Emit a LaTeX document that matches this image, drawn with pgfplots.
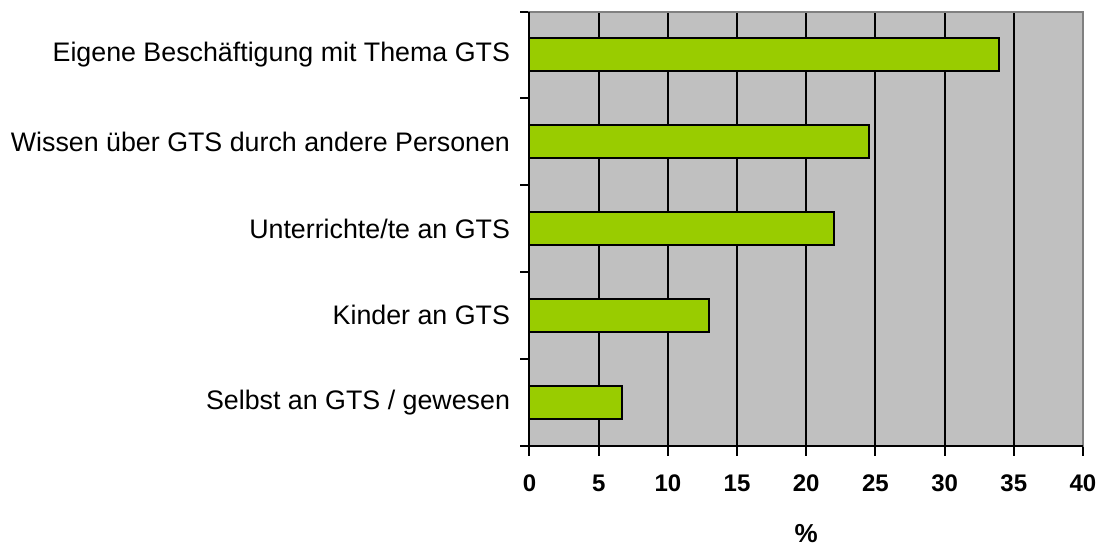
\documentclass[border=0pt]{standalone}
\usepackage{pgfplots}
\pgfplotsset{compat=1.18}
\usepackage{fontspec}
\setmainfont{Liberation Sans}
\definecolor{barg}{HTML}{99CC00}
\definecolor{bg}{HTML}{C0C0C0}
\definecolor{frame}{HTML}{808080}
\begin{document}
\begin{tikzpicture}
\begin{axis}[
 at={(0pt,0pt)}, anchor=south west,
 scale only axis, width=553.5pt, height=434pt,
 xbar, bar width=33pt,
 xmin=0, xmax=40, xtick={0,5,...,40},
 ymin=-0.5, ymax=4.5,
 ytick={0,...,4},
 yticklabels={Selbst an GTS / gewesen, Kinder an GTS, Unterrichte/te an GTS, Wissen über GTS durch andere Personen, Eigene Beschäftigung mit Thema GTS},
 minor ytick={-0.5,0.5,...,4.5},
 major y tick style={draw=none},
 minor y tick style={black, line width=2pt},
 minor tick length=9pt,
 x tick style={black, line width=2pt},
 major tick length=10pt,
 tick align=outside,
 xtick pos=bottom, ytick pos=left,
 xmajorgrids, grid style={black, line width=2pt},
 axis background/.style={fill=bg},
 axis line style={draw=frame, line width=2pt},
 /pgf/number format/assume math mode=true,
 xticklabel style={font=\fontsize{24}{28}\selectfont\bfseries, yshift=-16pt},
 yticklabel style={font=\fontsize{26.8}{30}\selectfont, xshift=-6pt},
 xlabel={\%}, xlabel style={font=\fontsize{26}{30}\selectfont\bfseries, yshift=-25pt},
 clip=false,
]
\addplot[fill=barg, draw=black, line width=2pt] coordinates {(6.7,0) (13,1) (22,2) (24.5,3) (33.9,4)};
\draw[black, line width=2pt] (rel axis cs:0,1) -- (rel axis cs:0,0) -- (rel axis cs:1,0);
\end{axis}
\pgfresetboundingbox
\useasboundingbox (-529.5pt,-101.5pt) rectangle (573.5pt,445.5pt);
\end{tikzpicture}
\end{document}
